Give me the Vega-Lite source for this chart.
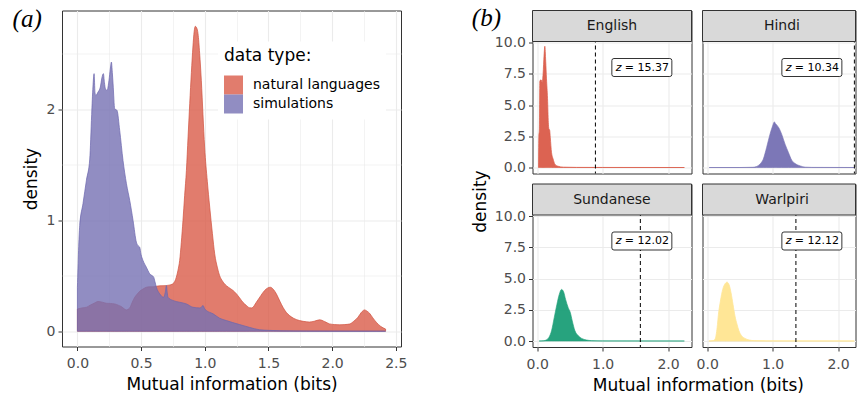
{
  "$schema": "https://vega.github.io/schema/vega-lite/v6.json",
  "background": "white",
  "padding": {"left": 12, "top": 5.5, "right": 0, "bottom": 0},
  "config": {
    "font": "DejaVu Sans",
    "view": {"stroke": "#333333", "strokeWidth": 1},
    "axis": {
      "domain": false,
      "tickColor": "#333333",
      "tickWidth": 1,
      "tickSize": 4,
      "labelPadding": 3,
      "labelColor": "#4D4D4D",
      "labelFontSize": 14,
      "labelOverlap": false,
      "labelFlush": false,
      "gridColor": "#EBEBEB",
      "titleFontSize": 17,
      "titleFontWeight": "normal",
      "titleColor": "black"
    },
    "axisX": {"labelPadding": 6},
    "title": {"fontWeight": "normal", "color": "black"}
  },
  "datasets": {
    "panelA": [
      {"type": "natural languages", "mi": 0.0, "density": 0.2},
      {"type": "natural languages", "mi": 0.035, "density": 0.21},
      {"type": "natural languages", "mi": 0.071, "density": 0.216},
      {"type": "natural languages", "mi": 0.1, "density": 0.235},
      {"type": "natural languages", "mi": 0.131, "density": 0.252},
      {"type": "natural languages", "mi": 0.162, "density": 0.268},
      {"type": "natural languages", "mi": 0.195, "density": 0.262},
      {"type": "natural languages", "mi": 0.228, "density": 0.252},
      {"type": "natural languages", "mi": 0.26, "density": 0.25},
      {"type": "natural languages", "mi": 0.293, "density": 0.246},
      {"type": "natural languages", "mi": 0.32, "density": 0.235},
      {"type": "natural languages", "mi": 0.345, "density": 0.222},
      {"type": "natural languages", "mi": 0.37, "density": 0.2},
      {"type": "natural languages", "mi": 0.385, "density": 0.192},
      {"type": "natural languages", "mi": 0.4, "density": 0.2},
      {"type": "natural languages", "mi": 0.411, "density": 0.21},
      {"type": "natural languages", "mi": 0.43, "density": 0.26},
      {"type": "natural languages", "mi": 0.45, "density": 0.306},
      {"type": "natural languages", "mi": 0.47, "density": 0.335},
      {"type": "natural languages", "mi": 0.489, "density": 0.36},
      {"type": "natural languages", "mi": 0.515, "density": 0.38},
      {"type": "natural languages", "mi": 0.541, "density": 0.396},
      {"type": "natural languages", "mi": 0.57, "density": 0.4},
      {"type": "natural languages", "mi": 0.594, "density": 0.4},
      {"type": "natural languages", "mi": 0.62, "density": 0.405},
      {"type": "natural languages", "mi": 0.646, "density": 0.409},
      {"type": "natural languages", "mi": 0.68, "density": 0.41},
      {"type": "natural languages", "mi": 0.72, "density": 0.415},
      {"type": "natural languages", "mi": 0.75, "density": 0.427},
      {"type": "natural languages", "mi": 0.765, "density": 0.45},
      {"type": "natural languages", "mi": 0.777, "density": 0.487},
      {"type": "natural languages", "mi": 0.79, "density": 0.55},
      {"type": "natural languages", "mi": 0.803, "density": 0.637},
      {"type": "natural languages", "mi": 0.816, "density": 0.8},
      {"type": "natural languages", "mi": 0.829, "density": 0.997},
      {"type": "natural languages", "mi": 0.842, "density": 1.22},
      {"type": "natural languages", "mi": 0.856, "density": 1.448},
      {"type": "natural languages", "mi": 0.869, "density": 1.75},
      {"type": "natural languages", "mi": 0.882, "density": 2.049},
      {"type": "natural languages", "mi": 0.895, "density": 2.33},
      {"type": "natural languages", "mi": 0.907, "density": 2.559},
      {"type": "natural languages", "mi": 0.917, "density": 2.7},
      {"type": "natural languages", "mi": 0.926, "density": 2.745},
      {"type": "natural languages", "mi": 0.937, "density": 2.73},
      {"type": "natural languages", "mi": 0.947, "density": 2.679},
      {"type": "natural languages", "mi": 0.96, "density": 2.5},
      {"type": "natural languages", "mi": 0.973, "density": 2.259},
      {"type": "natural languages", "mi": 0.986, "density": 1.95},
      {"type": "natural languages", "mi": 0.999, "density": 1.658},
      {"type": "natural languages", "mi": 1.02, "density": 1.35},
      {"type": "natural languages", "mi": 1.039, "density": 1.117},
      {"type": "natural languages", "mi": 1.06, "density": 0.88},
      {"type": "natural languages", "mi": 1.078, "density": 0.697},
      {"type": "natural languages", "mi": 1.1, "density": 0.57},
      {"type": "natural languages", "mi": 1.117, "density": 0.5},
      {"type": "natural languages", "mi": 1.14, "density": 0.45},
      {"type": "natural languages", "mi": 1.17, "density": 0.41},
      {"type": "natural languages", "mi": 1.2, "density": 0.385},
      {"type": "natural languages", "mi": 1.222, "density": 0.367},
      {"type": "natural languages", "mi": 1.25, "density": 0.335},
      {"type": "natural languages", "mi": 1.274, "density": 0.3},
      {"type": "natural languages", "mi": 1.3, "density": 0.26},
      {"type": "natural languages", "mi": 1.327, "density": 0.232},
      {"type": "natural languages", "mi": 1.35, "density": 0.212},
      {"type": "natural languages", "mi": 1.37, "density": 0.21},
      {"type": "natural languages", "mi": 1.405, "density": 0.261},
      {"type": "natural languages", "mi": 1.44, "density": 0.32},
      {"type": "natural languages", "mi": 1.47, "density": 0.367},
      {"type": "natural languages", "mi": 1.495, "density": 0.39},
      {"type": "natural languages", "mi": 1.515, "density": 0.396},
      {"type": "natural languages", "mi": 1.54, "density": 0.375},
      {"type": "natural languages", "mi": 1.562, "density": 0.337},
      {"type": "natural languages", "mi": 1.59, "density": 0.27},
      {"type": "natural languages", "mi": 1.614, "density": 0.216},
      {"type": "natural languages", "mi": 1.64, "density": 0.17},
      {"type": "natural languages", "mi": 1.666, "density": 0.141},
      {"type": "natural languages", "mi": 1.7, "density": 0.115},
      {"type": "natural languages", "mi": 1.745, "density": 0.096},
      {"type": "natural languages", "mi": 1.8, "density": 0.085},
      {"type": "natural languages", "mi": 1.823, "density": 0.083},
      {"type": "natural languages", "mi": 1.86, "density": 0.09},
      {"type": "natural languages", "mi": 1.902, "density": 0.103},
      {"type": "natural languages", "mi": 1.94, "density": 0.088},
      {"type": "natural languages", "mi": 1.98, "density": 0.066},
      {"type": "natural languages", "mi": 2.02, "density": 0.06},
      {"type": "natural languages", "mi": 2.06, "density": 0.058},
      {"type": "natural languages", "mi": 2.1, "density": 0.06},
      {"type": "natural languages", "mi": 2.137, "density": 0.065},
      {"type": "natural languages", "mi": 2.17, "density": 0.09},
      {"type": "natural languages", "mi": 2.203, "density": 0.126},
      {"type": "natural languages", "mi": 2.23, "density": 0.17},
      {"type": "natural languages", "mi": 2.255, "density": 0.192},
      {"type": "natural languages", "mi": 2.275, "density": 0.18},
      {"type": "natural languages", "mi": 2.294, "density": 0.162},
      {"type": "natural languages", "mi": 2.32, "density": 0.12},
      {"type": "natural languages", "mi": 2.347, "density": 0.081},
      {"type": "natural languages", "mi": 2.38, "density": 0.045},
      {"type": "natural languages", "mi": 2.42, "density": 0.02},
      {"type": "simulations", "mi": 0.0, "density": 0.396},
      {"type": "simulations", "mi": 0.018, "density": 0.95},
      {"type": "simulations", "mi": 0.044, "density": 1.15},
      {"type": "simulations", "mi": 0.071, "density": 1.36},
      {"type": "simulations", "mi": 0.097, "density": 1.55},
      {"type": "simulations", "mi": 0.112, "density": 1.95},
      {"type": "simulations", "mi": 0.122, "density": 2.2},
      {"type": "simulations", "mi": 0.131, "density": 2.319},
      {"type": "simulations", "mi": 0.138, "density": 2.15},
      {"type": "simulations", "mi": 0.144, "density": 2.123},
      {"type": "simulations", "mi": 0.162, "density": 2.153},
      {"type": "simulations", "mi": 0.18, "density": 2.198},
      {"type": "simulations", "mi": 0.192, "density": 2.28},
      {"type": "simulations", "mi": 0.204, "density": 2.319},
      {"type": "simulations", "mi": 0.212, "density": 2.24},
      {"type": "simulations", "mi": 0.22, "density": 2.183},
      {"type": "simulations", "mi": 0.233, "density": 2.168},
      {"type": "simulations", "mi": 0.248, "density": 2.259},
      {"type": "simulations", "mi": 0.258, "density": 2.36},
      {"type": "simulations", "mi": 0.267, "density": 2.423},
      {"type": "simulations", "mi": 0.274, "density": 2.33},
      {"type": "simulations", "mi": 0.28, "density": 2.228},
      {"type": "simulations", "mi": 0.293, "density": 2.003},
      {"type": "simulations", "mi": 0.311, "density": 1.988},
      {"type": "simulations", "mi": 0.332, "density": 1.808},
      {"type": "simulations", "mi": 0.358, "density": 1.538},
      {"type": "simulations", "mi": 0.385, "density": 1.328},
      {"type": "simulations", "mi": 0.411, "density": 1.177},
      {"type": "simulations", "mi": 0.437, "density": 0.997},
      {"type": "simulations", "mi": 0.463, "density": 0.802},
      {"type": "simulations", "mi": 0.476, "density": 0.77},
      {"type": "simulations", "mi": 0.489, "density": 0.757},
      {"type": "simulations", "mi": 0.5, "density": 0.69},
      {"type": "simulations", "mi": 0.515, "density": 0.637},
      {"type": "simulations", "mi": 0.541, "density": 0.577},
      {"type": "simulations", "mi": 0.568, "density": 0.517},
      {"type": "simulations", "mi": 0.599, "density": 0.487},
      {"type": "simulations", "mi": 0.608, "density": 0.45},
      {"type": "simulations", "mi": 0.62, "density": 0.396},
      {"type": "simulations", "mi": 0.646, "density": 0.337},
      {"type": "simulations", "mi": 0.677, "density": 0.306},
      {"type": "simulations", "mi": 0.69, "density": 0.35},
      {"type": "simulations", "mi": 0.699, "density": 0.412},
      {"type": "simulations", "mi": 0.705, "density": 0.35},
      {"type": "simulations", "mi": 0.711, "density": 0.306},
      {"type": "simulations", "mi": 0.75, "density": 0.277},
      {"type": "simulations", "mi": 0.803, "density": 0.261},
      {"type": "simulations", "mi": 0.856, "density": 0.246},
      {"type": "simulations", "mi": 0.907, "density": 0.216},
      {"type": "simulations", "mi": 0.96, "density": 0.21},
      {"type": "simulations", "mi": 0.973, "density": 0.216},
      {"type": "simulations", "mi": 0.986, "density": 0.232},
      {"type": "simulations", "mi": 1.0, "density": 0.2},
      {"type": "simulations", "mi": 1.012, "density": 0.187},
      {"type": "simulations", "mi": 1.065, "density": 0.157},
      {"type": "simulations", "mi": 1.117, "density": 0.117},
      {"type": "simulations", "mi": 1.17, "density": 0.096},
      {"type": "simulations", "mi": 1.22, "density": 0.078},
      {"type": "simulations", "mi": 1.274, "density": 0.06},
      {"type": "simulations", "mi": 1.35, "density": 0.035},
      {"type": "simulations", "mi": 1.431, "density": 0.013},
      {"type": "simulations", "mi": 1.5, "density": 0.008},
      {"type": "simulations", "mi": 1.6, "density": 0.004},
      {"type": "simulations", "mi": 1.8, "density": 0.002},
      {"type": "simulations", "mi": 2.0, "density": 0.001},
      {"type": "simulations", "mi": 2.42, "density": 0.0}
    ],
    "dens": [
      {"lang": "English", "mi": 0.02, "density": 0},
      {"lang": "English", "mi": 0.025, "density": 2.5},
      {"lang": "English", "mi": 0.033, "density": 3.0},
      {"lang": "English", "mi": 0.04, "density": 6.9},
      {"lang": "English", "mi": 0.05, "density": 7.0},
      {"lang": "English", "mi": 0.062, "density": 7.0},
      {"lang": "English", "mi": 0.075, "density": 6.8},
      {"lang": "English", "mi": 0.09, "density": 7.5},
      {"lang": "English", "mi": 0.105, "density": 9.0},
      {"lang": "English", "mi": 0.117, "density": 9.7},
      {"lang": "English", "mi": 0.13, "density": 8.5},
      {"lang": "English", "mi": 0.142, "density": 7.1},
      {"lang": "English", "mi": 0.158, "density": 5.5},
      {"lang": "English", "mi": 0.17, "density": 3.6},
      {"lang": "English", "mi": 0.178, "density": 3.1},
      {"lang": "English", "mi": 0.19, "density": 3.0},
      {"lang": "English", "mi": 0.2, "density": 2.4},
      {"lang": "English", "mi": 0.219, "density": 1.2},
      {"lang": "English", "mi": 0.244, "density": 0.67},
      {"lang": "English", "mi": 0.27, "density": 0.27},
      {"lang": "English", "mi": 0.32, "density": 0.1},
      {"lang": "English", "mi": 0.4, "density": 0.03},
      {"lang": "English", "mi": 0.6, "density": 0.01},
      {"lang": "English", "mi": 1.0, "density": 0.005},
      {"lang": "English", "mi": 2.25, "density": 0},
      {"lang": "Hindi", "mi": 0.03, "density": 0},
      {"lang": "Hindi", "mi": 0.5, "density": 0},
      {"lang": "Hindi", "mi": 0.7, "density": 0.02},
      {"lang": "Hindi", "mi": 0.754, "density": 0.08},
      {"lang": "Hindi", "mi": 0.806, "density": 0.27},
      {"lang": "Hindi", "mi": 0.857, "density": 0.67},
      {"lang": "Hindi", "mi": 0.908, "density": 1.6},
      {"lang": "Hindi", "mi": 0.96, "density": 2.67},
      {"lang": "Hindi", "mi": 1.0, "density": 3.33},
      {"lang": "Hindi", "mi": 1.026, "density": 3.65},
      {"lang": "Hindi", "mi": 1.045, "density": 3.5},
      {"lang": "Hindi", "mi": 1.062, "density": 3.41},
      {"lang": "Hindi", "mi": 1.098, "density": 3.15},
      {"lang": "Hindi", "mi": 1.138, "density": 2.67},
      {"lang": "Hindi", "mi": 1.19, "density": 1.87},
      {"lang": "Hindi", "mi": 1.242, "density": 1.2},
      {"lang": "Hindi", "mi": 1.292, "density": 0.59},
      {"lang": "Hindi", "mi": 1.344, "density": 0.32},
      {"lang": "Hindi", "mi": 1.421, "density": 0.13},
      {"lang": "Hindi", "mi": 1.498, "density": 0.03},
      {"lang": "Hindi", "mi": 1.6, "density": 0.01},
      {"lang": "Hindi", "mi": 2.25, "density": 0},
      {"lang": "Sundanese", "mi": 0.03, "density": 0},
      {"lang": "Sundanese", "mi": 0.1, "density": 0.02},
      {"lang": "Sundanese", "mi": 0.143, "density": 0.1},
      {"lang": "Sundanese", "mi": 0.179, "density": 0.29},
      {"lang": "Sundanese", "mi": 0.219, "density": 0.82},
      {"lang": "Sundanese", "mi": 0.26, "density": 1.87},
      {"lang": "Sundanese", "mi": 0.301, "density": 2.93},
      {"lang": "Sundanese", "mi": 0.337, "density": 3.73},
      {"lang": "Sundanese", "mi": 0.372, "density": 4.13},
      {"lang": "Sundanese", "mi": 0.403, "density": 3.94},
      {"lang": "Sundanese", "mi": 0.434, "density": 3.33},
      {"lang": "Sundanese", "mi": 0.474, "density": 2.67},
      {"lang": "Sundanese", "mi": 0.505, "density": 2.3},
      {"lang": "Sundanese", "mi": 0.536, "density": 1.61},
      {"lang": "Sundanese", "mi": 0.577, "density": 0.82},
      {"lang": "Sundanese", "mi": 0.628, "density": 0.42},
      {"lang": "Sundanese", "mi": 0.679, "density": 0.21},
      {"lang": "Sundanese", "mi": 0.755, "density": 0.08},
      {"lang": "Sundanese", "mi": 0.832, "density": 0.03},
      {"lang": "Sundanese", "mi": 1.0, "density": 0.01},
      {"lang": "Sundanese", "mi": 2.25, "density": 0},
      {"lang": "Warlpiri", "mi": 0.025, "density": 0},
      {"lang": "Warlpiri", "mi": 0.09, "density": 0.03},
      {"lang": "Warlpiri", "mi": 0.121, "density": 0.16},
      {"lang": "Warlpiri", "mi": 0.152, "density": 1.08},
      {"lang": "Warlpiri", "mi": 0.172, "density": 2.14},
      {"lang": "Warlpiri", "mi": 0.202, "density": 3.2},
      {"lang": "Warlpiri", "mi": 0.237, "density": 4.13},
      {"lang": "Warlpiri", "mi": 0.273, "density": 4.58},
      {"lang": "Warlpiri", "mi": 0.303, "density": 4.71},
      {"lang": "Warlpiri", "mi": 0.333, "density": 4.52},
      {"lang": "Warlpiri", "mi": 0.364, "density": 3.86},
      {"lang": "Warlpiri", "mi": 0.394, "density": 2.94},
      {"lang": "Warlpiri", "mi": 0.424, "density": 2.01},
      {"lang": "Warlpiri", "mi": 0.455, "density": 1.35},
      {"lang": "Warlpiri", "mi": 0.485, "density": 0.82},
      {"lang": "Warlpiri", "mi": 0.525, "density": 0.42},
      {"lang": "Warlpiri", "mi": 0.576, "density": 0.21},
      {"lang": "Warlpiri", "mi": 0.641, "density": 0.08},
      {"lang": "Warlpiri", "mi": 0.717, "density": 0.03},
      {"lang": "Warlpiri", "mi": 0.9, "density": 0.01},
      {"lang": "Warlpiri", "mi": 2.25, "density": 0}
    ],
    "stats": [
      {"lang": "English", "obs": 0.89, "zlab": "= 15.37"},
      {"lang": "Hindi", "obs": 2.25, "zlab": "= 10.34"},
      {"lang": "Sundanese", "obs": 1.577, "zlab": "= 12.02"},
      {"lang": "Warlpiri", "obs": 1.356, "zlab": "= 12.12"}
    ]
  },
  "spacing": 63.5,
  "hconcat": [
    {
      "title": {"text": "(a)", "anchor": "start", "frame": "bounds", "offset": -21, "dx": -9.5, "font": "Liberation Serif", "fontStyle": "italic", "fontSize": 25, "fontWeight": "normal", "color": "black"},
      "width": 339,
      "height": 336,
      "data": {"name": "panelA"},
      "mark": {"type": "area", "interpolate": "monotone", "fillOpacity": 0.8, "strokeWidth": 0.7},
      "encoding": {
        "x": {
          "field": "mi", "type": "quantitative",
          "scale": {"domain": [-0.121, 2.541], "nice": false, "zero": false},
          "axis": {
            "title": "Mutual information (bits)",
            "titlePadding": 6,
            "labelOverlap": false, "labelFlush": false,
            "values": [0, 0.25, 0.5, 0.75, 1, 1.25, 1.5, 1.75, 2, 2.25, 2.5],
            "labelExpr": "abs(datum.value*2-round(datum.value*2))<0.001 ? format(datum.value,'.1f') : ''",
            "tickOpacity": {"condition": {"test": "abs(datum.value*2-round(datum.value*2))<0.001", "value": 1}, "value": 0},
            "gridWidth": {"condition": {"test": "abs(datum.value*2-round(datum.value*2))<0.001", "value": 1.1}, "value": 0.6}
          }
        },
        "y": {
          "field": "density", "type": "quantitative", "stack": null,
          "scale": {"domain": [-0.1375, 2.8875], "nice": false, "zero": false},
          "axis": {
            "title": "density",
            "titlePadding": 6,
            "labelOverlap": false, "labelFlush": false,
            "values": [0, 0.5, 1, 1.5, 2, 2.5],
            "labelExpr": "abs(datum.value-round(datum.value))<0.001 ? format(datum.value,'d') : ''",
            "tickOpacity": {"condition": {"test": "abs(datum.value-round(datum.value))<0.001", "value": 1}, "value": 0},
            "gridWidth": {"condition": {"test": "abs(datum.value-round(datum.value))<0.001", "value": 1.1}, "value": 0.6}
          }
        },
        "color": {
          "field": "type", "type": "nominal",
          "scale": {"domain": ["natural languages", "simulations"], "range": ["#DA5B49", "#7570B3"]},
          "legend": {
            "orient": "none", "legendX": 156, "legendY": 31,
            "title": "data type:", "titleFontSize": 17, "titleFontWeight": "normal", "titleColor": "black", "titlePadding": 11,
            "labelFontSize": 14, "labelColor": "black", "labelOffset": 10,
            "symbolType": "square", "symbolSize": 361, "symbolOpacity": 0.8, "symbolStrokeWidth": 0,
            "fillColor": "white", "padding": 6, "rowPadding": 0
          }
        },
        "stroke": {
          "field": "type", "type": "nominal",
          "scale": {"domain": ["natural languages", "simulations"], "range": ["#D0503E", "#6B66AD"]},
          "legend": null
        }
      }
    },
    {
      "title": {"text": "(b)", "anchor": "start", "frame": "bounds", "offset": -21, "dx": 0, "font": "Liberation Serif", "fontStyle": "italic", "fontSize": 25, "fontWeight": "normal", "color": "black"},
      "vconcat": [
        {
          "title": {"text": "density", "orient": "left", "anchor": "middle", "fontSize": 17, "fontWeight": "normal", "color": "black", "offset": 4},
          "vconcat": [
            {
              "title": {"text": "Mutual information (bits)", "orient": "bottom", "anchor": "middle", "fontSize": 17, "fontWeight": "normal", "color": "black", "offset": 6, "dx": 23},
              "columns": 2,
              "bounds": "flush",
              "spacing": {"row": 10.5, "column": 11},
              "concat": [
                {
                  "width": 159, "height": 163,
                  "layer": [
                    {
                      "data": {"name": "dens"},
                      "transform": [{"filter": "datum.lang === 'English'"}],
                      "mark": {"type": "area", "interpolate": "monotone", "color": "#DA5B49", "fillOpacity": 0.95, "stroke": "#DA5B49", "strokeOpacity": 0.7, "strokeWidth": 1},
                      "encoding": {
                        "x": {"field": "mi", "type": "quantitative",
                          "scale": {"domain": [-0.072, 2.359], "nice": false, "zero": false},
                          "axis": {"title": null, "labels": false, "ticks": false, "labelOverlap": false, "labelFlush": false,
                            "values": [0, 0.25, 0.5, 0.75, 1, 1.25, 1.5, 1.75, 2, 2.25],
                            "gridWidth": {"condition": {"test": "abs(datum.value*2-round(datum.value*2))<0.001", "value": 1.1}, "value": 0.6}}},
                        "y": {"field": "density", "type": "quantitative", "stack": null,
                          "scale": {"domain": [-0.48, 12.56], "nice": false, "zero": false},
                          "axis": {"title": null, "labelOverlap": false, "labelFlush": false,
                            "values": [0, 1.25, 2.5, 3.75, 5, 6.25, 7.5, 8.75, 10],
                            "labelExpr": "abs(datum.value/2.5-round(datum.value/2.5))<0.001 ? format(datum.value,'.1f') : ''",
                            "tickOpacity": {"condition": {"test": "abs(datum.value/2.5-round(datum.value/2.5))<0.001", "value": 1}, "value": 0},
                            "gridWidth": {"condition": {"test": "abs(datum.value/2.5-round(datum.value/2.5))<0.001", "value": 1.1}, "value": 0.6}}}
                      }
                    },
                    {
                      "data": {"name": "stats"},
                      "transform": [{"filter": "datum.lang === 'English'"}],
                      "mark": {"type": "rule", "color": "black", "strokeDash": [4, 3], "strokeWidth": 1},
                      "encoding": {"x": {"field": "obs", "type": "quantitative"}}
                    },
                    {
                      "data": {"name": "stats"},
                      "transform": [{"filter": "datum.lang === 'English'"}],
                      "mark": {"type": "point", "shape": "M-0.93,-0.3H0.93Q1,-0.3 1,-0.23V0.23Q1,0.3 0.93,0.3H-0.93Q-1,0.3 -1,0.23V-0.23Q-1,-0.3 -0.93,-0.3Z", "size": 3600, "filled": true, "fill": "white", "stroke": "black", "strokeWidth": 0.8, "opacity": 1},
                      "encoding": {"x": {"datum": 1.6, "type": "quantitative"}, "y": {"datum": 8, "type": "quantitative"}}
                    },
                    {
                      "data": {"name": "stats"},
                      "transform": [{"filter": "datum.lang === 'English'"}],
                      "mark": {"type": "text", "text": "z", "fontStyle": "italic", "fontSize": 11, "align": "left", "dx": -26, "color": "black"},
                      "encoding": {"x": {"datum": 1.6, "type": "quantitative"}, "y": {"datum": 8, "type": "quantitative"}}
                    },
                    {
                      "data": {"name": "stats"},
                      "transform": [{"filter": "datum.lang === 'English'"}],
                      "mark": {"type": "text", "fontSize": 11, "align": "left", "dx": -17, "color": "black"},
                      "encoding": {"x": {"datum": 1.6, "type": "quantitative"}, "y": {"datum": 8, "type": "quantitative"}, "text": {"field": "zlab", "type": "nominal"}}
                    },
                    {
                      "data": {"name": "stats"},
                      "transform": [{"filter": "datum.lang === 'English'"}],
                      "mark": {"type": "rect", "fill": "#D9D9D9", "stroke": "#333333", "strokeWidth": 1},
                      "encoding": {"x": {"datum": -0.072, "type": "quantitative"}, "x2": {"datum": 2.359}, "y": {"datum": 10.08, "type": "quantitative"}, "y2": {"datum": 12.56}}
                    },
                    {
                      "data": {"name": "stats"},
                      "transform": [{"filter": "datum.lang === 'English'"}],
                      "mark": {"type": "text", "fontSize": 14, "color": "#1A1A1A"},
                      "encoding": {"x": {"datum": 1.143, "type": "quantitative"}, "y": {"datum": 11.32, "type": "quantitative"}, "text": {"field": "lang", "type": "nominal"}}
                    }
                  ]
                },
                {
                  "width": 153, "height": 163,
                  "layer": [
                    {
                      "data": {"name": "dens"},
                      "transform": [{"filter": "datum.lang === 'Hindi'"}],
                      "mark": {"type": "area", "interpolate": "monotone", "color": "#7570B3", "fillOpacity": 0.95, "stroke": "#7570B3", "strokeOpacity": 0.6, "strokeWidth": 1},
                      "encoding": {
                        "x": {"field": "mi", "type": "quantitative",
                          "scale": {"domain": [-0.072, 2.267], "nice": false, "zero": false},
                          "axis": {"title": null, "labels": false, "ticks": false, "labelOverlap": false, "labelFlush": false,
                            "values": [0, 0.25, 0.5, 0.75, 1, 1.25, 1.5, 1.75, 2, 2.25],
                            "gridWidth": {"condition": {"test": "abs(datum.value*2-round(datum.value*2))<0.001", "value": 1.1}, "value": 0.6}}},
                        "y": {"field": "density", "type": "quantitative", "stack": null,
                          "scale": {"domain": [-0.48, 12.56], "nice": false, "zero": false},
                          "axis": {"title": null, "labels": false, "ticks": false, "labelOverlap": false, "labelFlush": false,
                            "values": [0, 1.25, 2.5, 3.75, 5, 6.25, 7.5, 8.75, 10],
                            "gridWidth": {"condition": {"test": "abs(datum.value/2.5-round(datum.value/2.5))<0.001", "value": 1.1}, "value": 0.6}}}
                      }
                    },
                    {
                      "data": {"name": "stats"},
                      "transform": [{"filter": "datum.lang === 'Hindi'"}],
                      "mark": {"type": "rule", "color": "black", "strokeDash": [4, 3], "strokeWidth": 1},
                      "encoding": {"x": {"field": "obs", "type": "quantitative"}}
                    },
                    {
                      "data": {"name": "stats"},
                      "transform": [{"filter": "datum.lang === 'Hindi'"}],
                      "mark": {"type": "point", "shape": "M-0.93,-0.3H0.93Q1,-0.3 1,-0.23V0.23Q1,0.3 0.93,0.3H-0.93Q-1,0.3 -1,0.23V-0.23Q-1,-0.3 -0.93,-0.3Z", "size": 3600, "filled": true, "fill": "white", "stroke": "black", "strokeWidth": 0.8, "opacity": 1},
                      "encoding": {"x": {"datum": 1.6, "type": "quantitative"}, "y": {"datum": 8, "type": "quantitative"}}
                    },
                    {
                      "data": {"name": "stats"},
                      "transform": [{"filter": "datum.lang === 'Hindi'"}],
                      "mark": {"type": "text", "text": "z", "fontStyle": "italic", "fontSize": 11, "align": "left", "dx": -26, "color": "black"},
                      "encoding": {"x": {"datum": 1.6, "type": "quantitative"}, "y": {"datum": 8, "type": "quantitative"}}
                    },
                    {
                      "data": {"name": "stats"},
                      "transform": [{"filter": "datum.lang === 'Hindi'"}],
                      "mark": {"type": "text", "fontSize": 11, "align": "left", "dx": -17, "color": "black"},
                      "encoding": {"x": {"datum": 1.6, "type": "quantitative"}, "y": {"datum": 8, "type": "quantitative"}, "text": {"field": "zlab", "type": "nominal"}}
                    },
                    {
                      "data": {"name": "stats"},
                      "transform": [{"filter": "datum.lang === 'Hindi'"}],
                      "mark": {"type": "rect", "fill": "#D9D9D9", "stroke": "#333333", "strokeWidth": 1},
                      "encoding": {"x": {"datum": -0.072, "type": "quantitative"}, "x2": {"datum": 2.267}, "y": {"datum": 10.08, "type": "quantitative"}, "y2": {"datum": 12.56}}
                    },
                    {
                      "data": {"name": "stats"},
                      "transform": [{"filter": "datum.lang === 'Hindi'"}],
                      "mark": {"type": "text", "fontSize": 14, "color": "#1A1A1A"},
                      "encoding": {"x": {"datum": 1.143, "type": "quantitative"}, "y": {"datum": 11.32, "type": "quantitative"}, "text": {"field": "lang", "type": "nominal"}}
                    }
                  ]
                },
                {
                  "width": 159, "height": 163,
                  "layer": [
                    {
                      "data": {"name": "dens"},
                      "transform": [{"filter": "datum.lang === 'Sundanese'"}],
                      "mark": {"type": "area", "interpolate": "monotone", "color": "#1B9E77", "fillOpacity": 0.95, "stroke": "#1B9E77", "strokeOpacity": 0.6, "strokeWidth": 1},
                      "encoding": {
                        "x": {"field": "mi", "type": "quantitative",
                          "scale": {"domain": [-0.072, 2.359], "nice": false, "zero": false},
                          "axis": {"title": null, "labelOverlap": false, "labelFlush": false,
                            "values": [0, 0.25, 0.5, 0.75, 1, 1.25, 1.5, 1.75, 2, 2.25],
                            "labelExpr": "abs(datum.value*2-round(datum.value*2))<0.001 ? format(datum.value,'.1f') : ''",
                            "tickOpacity": {"condition": {"test": "abs(datum.value*2-round(datum.value*2))<0.001", "value": 1}, "value": 0},
                            "gridWidth": {"condition": {"test": "abs(datum.value*2-round(datum.value*2))<0.001", "value": 1.1}, "value": 0.6}}},
                        "y": {"field": "density", "type": "quantitative", "stack": null,
                          "scale": {"domain": [-0.48, 12.56], "nice": false, "zero": false},
                          "axis": {"title": null, "labelOverlap": false, "labelFlush": false,
                            "values": [0, 1.25, 2.5, 3.75, 5, 6.25, 7.5, 8.75, 10],
                            "labelExpr": "abs(datum.value/2.5-round(datum.value/2.5))<0.001 ? format(datum.value,'.1f') : ''",
                            "tickOpacity": {"condition": {"test": "abs(datum.value/2.5-round(datum.value/2.5))<0.001", "value": 1}, "value": 0},
                            "gridWidth": {"condition": {"test": "abs(datum.value/2.5-round(datum.value/2.5))<0.001", "value": 1.1}, "value": 0.6}}}
                      }
                    },
                    {
                      "data": {"name": "stats"},
                      "transform": [{"filter": "datum.lang === 'Sundanese'"}],
                      "mark": {"type": "rule", "color": "black", "strokeDash": [4, 3], "strokeWidth": 1},
                      "encoding": {"x": {"field": "obs", "type": "quantitative"}}
                    },
                    {
                      "data": {"name": "stats"},
                      "transform": [{"filter": "datum.lang === 'Sundanese'"}],
                      "mark": {"type": "point", "shape": "M-0.93,-0.3H0.93Q1,-0.3 1,-0.23V0.23Q1,0.3 0.93,0.3H-0.93Q-1,0.3 -1,0.23V-0.23Q-1,-0.3 -0.93,-0.3Z", "size": 3600, "filled": true, "fill": "white", "stroke": "black", "strokeWidth": 0.8, "opacity": 1},
                      "encoding": {"x": {"datum": 1.6, "type": "quantitative"}, "y": {"datum": 8, "type": "quantitative"}}
                    },
                    {
                      "data": {"name": "stats"},
                      "transform": [{"filter": "datum.lang === 'Sundanese'"}],
                      "mark": {"type": "text", "text": "z", "fontStyle": "italic", "fontSize": 11, "align": "left", "dx": -26, "color": "black"},
                      "encoding": {"x": {"datum": 1.6, "type": "quantitative"}, "y": {"datum": 8, "type": "quantitative"}}
                    },
                    {
                      "data": {"name": "stats"},
                      "transform": [{"filter": "datum.lang === 'Sundanese'"}],
                      "mark": {"type": "text", "fontSize": 11, "align": "left", "dx": -17, "color": "black"},
                      "encoding": {"x": {"datum": 1.6, "type": "quantitative"}, "y": {"datum": 8, "type": "quantitative"}, "text": {"field": "zlab", "type": "nominal"}}
                    },
                    {
                      "data": {"name": "stats"},
                      "transform": [{"filter": "datum.lang === 'Sundanese'"}],
                      "mark": {"type": "rect", "fill": "#D9D9D9", "stroke": "#333333", "strokeWidth": 1},
                      "encoding": {"x": {"datum": -0.072, "type": "quantitative"}, "x2": {"datum": 2.359}, "y": {"datum": 10.08, "type": "quantitative"}, "y2": {"datum": 12.56}}
                    },
                    {
                      "data": {"name": "stats"},
                      "transform": [{"filter": "datum.lang === 'Sundanese'"}],
                      "mark": {"type": "text", "fontSize": 14, "color": "#1A1A1A"},
                      "encoding": {"x": {"datum": 1.143, "type": "quantitative"}, "y": {"datum": 11.32, "type": "quantitative"}, "text": {"field": "lang", "type": "nominal"}}
                    }
                  ]
                },
                {
                  "width": 153, "height": 163,
                  "layer": [
                    {
                      "data": {"name": "dens"},
                      "transform": [{"filter": "datum.lang === 'Warlpiri'"}],
                      "mark": {"type": "area", "interpolate": "monotone", "color": "#FFE696", "fillOpacity": 1, "stroke": "#FFE696", "strokeOpacity": 0.8, "strokeWidth": 1},
                      "encoding": {
                        "x": {"field": "mi", "type": "quantitative",
                          "scale": {"domain": [-0.072, 2.267], "nice": false, "zero": false},
                          "axis": {"title": null, "labelOverlap": false, "labelFlush": false,
                            "values": [0, 0.25, 0.5, 0.75, 1, 1.25, 1.5, 1.75, 2, 2.25],
                            "labelExpr": "abs(datum.value*2-round(datum.value*2))<0.001 ? format(datum.value,'.1f') : ''",
                            "tickOpacity": {"condition": {"test": "abs(datum.value*2-round(datum.value*2))<0.001", "value": 1}, "value": 0},
                            "gridWidth": {"condition": {"test": "abs(datum.value*2-round(datum.value*2))<0.001", "value": 1.1}, "value": 0.6}}},
                        "y": {"field": "density", "type": "quantitative", "stack": null,
                          "scale": {"domain": [-0.48, 12.56], "nice": false, "zero": false},
                          "axis": {"title": null, "labels": false, "ticks": false, "labelOverlap": false, "labelFlush": false,
                            "values": [0, 1.25, 2.5, 3.75, 5, 6.25, 7.5, 8.75, 10],
                            "gridWidth": {"condition": {"test": "abs(datum.value/2.5-round(datum.value/2.5))<0.001", "value": 1.1}, "value": 0.6}}}
                      }
                    },
                    {
                      "data": {"name": "stats"},
                      "transform": [{"filter": "datum.lang === 'Warlpiri'"}],
                      "mark": {"type": "rule", "color": "black", "strokeDash": [4, 3], "strokeWidth": 1},
                      "encoding": {"x": {"field": "obs", "type": "quantitative"}}
                    },
                    {
                      "data": {"name": "stats"},
                      "transform": [{"filter": "datum.lang === 'Warlpiri'"}],
                      "mark": {"type": "point", "shape": "M-0.93,-0.3H0.93Q1,-0.3 1,-0.23V0.23Q1,0.3 0.93,0.3H-0.93Q-1,0.3 -1,0.23V-0.23Q-1,-0.3 -0.93,-0.3Z", "size": 3600, "filled": true, "fill": "white", "stroke": "black", "strokeWidth": 0.8, "opacity": 1},
                      "encoding": {"x": {"datum": 1.6, "type": "quantitative"}, "y": {"datum": 8, "type": "quantitative"}}
                    },
                    {
                      "data": {"name": "stats"},
                      "transform": [{"filter": "datum.lang === 'Warlpiri'"}],
                      "mark": {"type": "text", "text": "z", "fontStyle": "italic", "fontSize": 11, "align": "left", "dx": -26, "color": "black"},
                      "encoding": {"x": {"datum": 1.6, "type": "quantitative"}, "y": {"datum": 8, "type": "quantitative"}}
                    },
                    {
                      "data": {"name": "stats"},
                      "transform": [{"filter": "datum.lang === 'Warlpiri'"}],
                      "mark": {"type": "text", "fontSize": 11, "align": "left", "dx": -17, "color": "black"},
                      "encoding": {"x": {"datum": 1.6, "type": "quantitative"}, "y": {"datum": 8, "type": "quantitative"}, "text": {"field": "zlab", "type": "nominal"}}
                    },
                    {
                      "data": {"name": "stats"},
                      "transform": [{"filter": "datum.lang === 'Warlpiri'"}],
                      "mark": {"type": "rect", "fill": "#D9D9D9", "stroke": "#333333", "strokeWidth": 1},
                      "encoding": {"x": {"datum": -0.072, "type": "quantitative"}, "x2": {"datum": 2.267}, "y": {"datum": 10.08, "type": "quantitative"}, "y2": {"datum": 12.56}}
                    },
                    {
                      "data": {"name": "stats"},
                      "transform": [{"filter": "datum.lang === 'Warlpiri'"}],
                      "mark": {"type": "text", "fontSize": 14, "color": "#1A1A1A"},
                      "encoding": {"x": {"datum": 1.143, "type": "quantitative"}, "y": {"datum": 11.32, "type": "quantitative"}, "text": {"field": "lang", "type": "nominal"}}
                    }
                  ]
                }
              ]
            }
          ]
        }
      ]
    }
  ]
}
